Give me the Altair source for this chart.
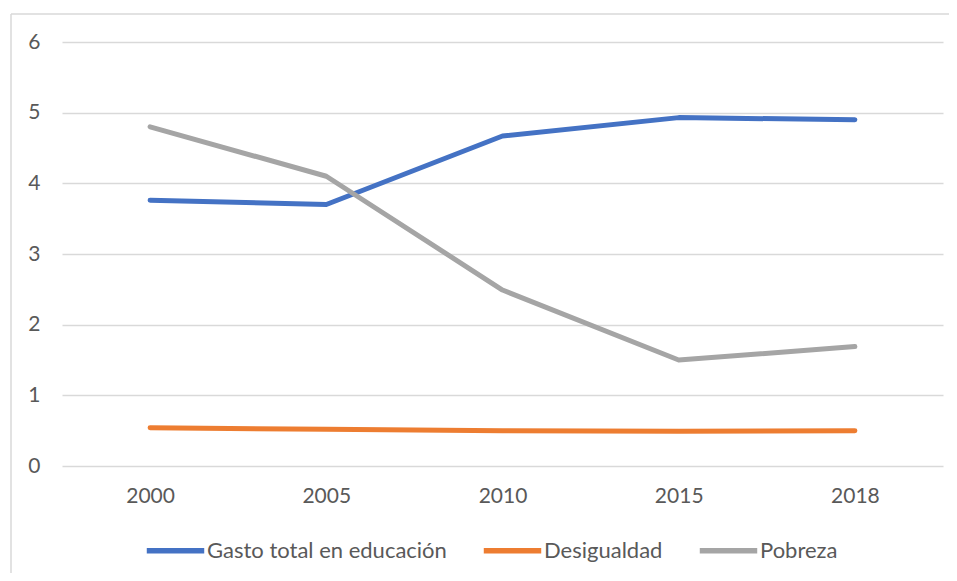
import altair as alt
import pandas as pd

years = ["2000", "2005", "2010", "2015", "2018"]
series_names = ["Gasto total en educación", "Desigualdad", "Pobreza"]
gasto = [3.76, 3.70, 4.67, 4.93, 4.90]
desigualdad = [0.54, 0.52, 0.50, 0.49, 0.50]
pobreza = [4.80, 4.10, 2.49, 1.50, 1.69]
colors = ["#4472C4", "#ED7D31", "#A5A5A5"]

rows = []
for name, vals in zip(series_names, [gasto, desigualdad, pobreza]):
    for y, v in zip(years, vals):
        rows.append({"Año": y, "Serie": name, "Valor": v})
df = pd.DataFrame(rows)

FONT = "Lato"
GREY = "#595959"

one = alt.Data(values=[{"a": 1}])
border_left = alt.Chart(one).mark_rule(stroke="#D9D9D9", strokeWidth=1.5).encode(
    x=alt.value(-51), y=alt.value(-28), y2=alt.value(560)
)
border_top = alt.Chart(one).mark_rule(stroke="#D9D9D9", strokeWidth=1.5).encode(
    x=alt.value(-51), x2=alt.value(910), y=alt.value(-28)
)

lines = alt.Chart(df).mark_line(strokeWidth=5, strokeCap="round", strokeJoin="round").encode(
    x=alt.X("Año:N", sort=years, title=None,
            scale=alt.Scale(type="point", padding=0.5),
            axis=alt.Axis(labelAngle=0, labelFontSize=21, labelColor=GREY, labelFont=FONT,
                          ticks=False, domain=False, grid=False, labelPadding=19)),
    y=alt.Y("Valor:Q", title=None,
            scale=alt.Scale(domain=[0, 6], nice=False),
            axis=alt.Axis(values=[0, 1, 2, 3, 4, 5, 6], labelFontSize=21, labelColor=GREY,
                          labelFont=FONT, ticks=False, domain=False, grid=True,
                          gridColor="#D9D9D9", gridWidth=1.5, labelPadding=22)),
    color=alt.Color("Serie:N", sort=series_names,
                    scale=alt.Scale(domain=series_names, range=colors),
                    legend=alt.Legend(orient="none", legendX=82, legendY=477, title=None,
                                      symbolType="stroke",
                                      symbolStrokeWidth=5.5, symbolSize=3300,
                                      labelFontSize=22, labelColor=GREY, labelFont=FONT,
                                      labelOffset=0, columnPadding=25, labelLimit=400,
                                      direction="horizontal")),
    detail="Serie:N",
)

chart = alt.layer(border_left, border_top, lines).properties(
    width=881, height=424,
    autosize=alt.AutoSizeParams(type="none"),
    padding={"left": 54, "top": 34, "right": 6, "bottom": 107},
).configure_view(stroke=None)

chart.save("out.html", embed_options={"renderer": "svg", "actions": False})
